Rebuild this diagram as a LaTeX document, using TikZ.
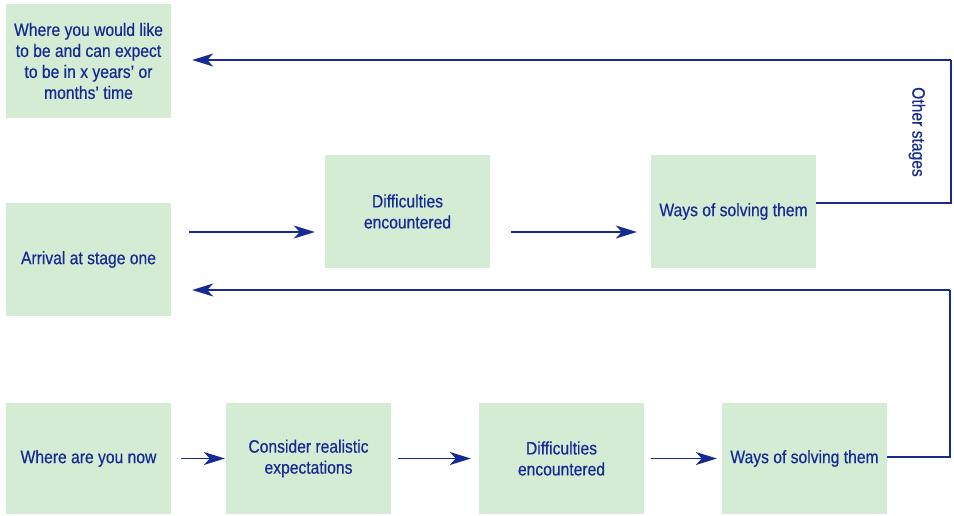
\documentclass[tikz,border=0pt]{standalone}
\usepackage{fontspec}
\setmainfont[FakeStretch=0.87,FakeBold=0.4]{Liberation Sans}
\usetikzlibrary{arrows.meta,calc}
\definecolor{navy}{HTML}{152A92}
\definecolor{boxgreen}{HTML}{D4EBD4}
\begin{document}
\begin{tikzpicture}[x=1pt,y=-1pt,
  box/.style={fill=boxgreen,draw=none,minimum width=165pt,minimum height=113pt,
    align=center,text=navy,font=\fontsize{18}{21}\selectfont,inner sep=2pt},
  arr/.style={draw=navy,line width=1.3pt,-{Stealth[length=21pt,width=13pt,inset=6pt]}},
  ln/.style={draw=navy,line width=1.3pt}]
\useasboundingbox (0,0) rectangle (954,515);
\node[box,minimum height=114pt] (A) at (88.5,61) {Where you would like\\to be and can expect\\to be in x years’ or\\months’ time};
\node[box] (arr1) at (88.5,259.5) {Arrival at stage one};
\node[box] (D1) at (407.5,211.5) {Difficulties\\encountered};
\node[box] (W1) at (733.5,211.5) {Ways of solving them};
\node[box,minimum height=111pt] (N) at (88.5,458.5) {Where are you now};
\node[box,minimum height=111pt] (C) at (308.5,458.5) {Consider realistic\\expectations};
\node[box,minimum height=111pt] (D2) at (561.5,458.5) {Difficulties\\encountered};
\node[box,minimum height=111pt] (W2) at (804.5,458.5) {Ways of solving them};
% middle row
\draw[arr] ([xshift=18pt,yshift=27.5pt]arr1.east) -- ([xshift=-10pt,yshift=-20.5pt]D1.west);
\draw[arr] ([xshift=21pt,yshift=-20.5pt]D1.east) -- ([xshift=-14pt,yshift=-20.5pt]W1.west);
% loop from W1 to A
\coordinate (w1a) at (951,203);
\coordinate (w1b) at (951,60);
\draw[ln] ([yshift=8.5pt]W1.east) -- (w1a) -- (w1b);
\draw[arr] (w1b) -- ([xshift=21pt,yshift=1pt]A.east);
\node[rotate=-90,text=navy,font=\fontsize{18}{21}\selectfont,inner sep=0pt] (os) at (917,132) {Other stages};
% bottom row
\draw[arr] ([xshift=10pt]N.east) -- ([xshift=-1pt]C.west);
\draw[arr] ([xshift=7pt]C.east) -- ([xshift=-8pt]D2.west);
\draw[arr] ([xshift=7pt]D2.east) -- ([xshift=-5pt]W2.west);
% loop from W2 to arrival
\coordinate (w2a) at (950,457);
\coordinate (w2b) at (950,290);
\draw[ln] ([yshift=1.5pt]W2.east) -- (w2a) -- (w2b);
\draw[arr] (w2b) -- ([xshift=21pt,yshift=-30.5pt]arr1.east);
\end{tikzpicture}
\end{document}
